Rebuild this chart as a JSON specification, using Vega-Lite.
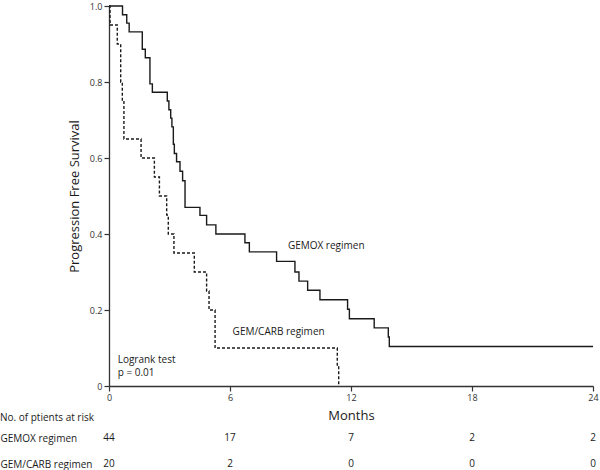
{
  "$schema": "https://vega.github.io/schema/vega-lite/v6.json",
  "background": "white",
  "padding": {"left": 0, "top": 2, "right": 0, "bottom": 0},
  "bounds": "flush",
  "spacing": 39,
  "config": {
    "view": {"stroke": null},
    "font": "Open Sans",
    "axis": {"grid": false, "domainColor": "#333333", "domainWidth": 1.3, "tickColor": "#333333", "tickWidth": 1.2, "labelColor": "#333333", "titleColor": "#1a1a1a", "titleFontWeight": "normal", "labelFont": "Open Sans", "titleFont": "Open Sans"}
  },
  "vconcat": [
    {
      "width": 484,
      "height": 380,
      "layer": [
        {
          "data": {"values": [
            {"group": "GEMOX", "month": 0, "survival": 1.0},
            {"group": "GEMOX", "month": 0.67, "survival": 0.977},
            {"group": "GEMOX", "month": 0.88, "survival": 0.955},
            {"group": "GEMOX", "month": 1.0, "survival": 0.932},
            {"group": "GEMOX", "month": 1.65, "survival": 0.886},
            {"group": "GEMOX", "month": 1.8, "survival": 0.864},
            {"group": "GEMOX", "month": 2.03, "survival": 0.795},
            {"group": "GEMOX", "month": 2.15, "survival": 0.773},
            {"group": "GEMOX", "month": 2.89, "survival": 0.75},
            {"group": "GEMOX", "month": 2.97, "survival": 0.727},
            {"group": "GEMOX", "month": 3.06, "survival": 0.705},
            {"group": "GEMOX", "month": 3.12, "survival": 0.682},
            {"group": "GEMOX", "month": 3.19, "survival": 0.636},
            {"group": "GEMOX", "month": 3.24, "survival": 0.612},
            {"group": "GEMOX", "month": 3.35, "survival": 0.59},
            {"group": "GEMOX", "month": 3.52, "survival": 0.565},
            {"group": "GEMOX", "month": 3.65, "survival": 0.54},
            {"group": "GEMOX", "month": 3.77, "survival": 0.47},
            {"group": "GEMOX", "month": 4.51, "survival": 0.449},
            {"group": "GEMOX", "month": 4.84, "survival": 0.424},
            {"group": "GEMOX", "month": 5.3, "survival": 0.40},
            {"group": "GEMOX", "month": 6.74, "survival": 0.377},
            {"group": "GEMOX", "month": 6.96, "survival": 0.353},
            {"group": "GEMOX", "month": 8.31, "survival": 0.328},
            {"group": "GEMOX", "month": 9.22, "survival": 0.30},
            {"group": "GEMOX", "month": 9.42, "survival": 0.276},
            {"group": "GEMOX", "month": 9.85, "survival": 0.252},
            {"group": "GEMOX", "month": 10.46, "survival": 0.227},
            {"group": "GEMOX", "month": 11.83, "survival": 0.202},
            {"group": "GEMOX", "month": 11.92, "survival": 0.177},
            {"group": "GEMOX", "month": 13.15, "survival": 0.153},
            {"group": "GEMOX", "month": 13.85, "survival": 0.129},
            {"group": "GEMOX", "month": 13.9, "survival": 0.104},
            {"group": "GEMOX", "month": 24, "survival": 0.104},
            {"group": "GEM/CARB", "month": 0, "survival": 1.0},
            {"group": "GEM/CARB", "month": 0.05, "survival": 0.95},
            {"group": "GEM/CARB", "month": 0.41, "survival": 0.90},
            {"group": "GEM/CARB", "month": 0.58, "survival": 0.80},
            {"group": "GEM/CARB", "month": 0.66, "survival": 0.75},
            {"group": "GEM/CARB", "month": 0.74, "survival": 0.65},
            {"group": "GEM/CARB", "month": 1.59, "survival": 0.60},
            {"group": "GEM/CARB", "month": 2.25, "survival": 0.55},
            {"group": "GEM/CARB", "month": 2.5, "survival": 0.50},
            {"group": "GEM/CARB", "month": 2.86, "survival": 0.45},
            {"group": "GEM/CARB", "month": 2.94, "survival": 0.40},
            {"group": "GEM/CARB", "month": 3.22, "survival": 0.35},
            {"group": "GEM/CARB", "month": 4.23, "survival": 0.30},
            {"group": "GEM/CARB", "month": 4.84, "survival": 0.25},
            {"group": "GEM/CARB", "month": 4.96, "survival": 0.20},
            {"group": "GEM/CARB", "month": 5.26, "survival": 0.10},
            {"group": "GEM/CARB", "month": 11.32, "survival": 0.05},
            {"group": "GEM/CARB", "month": 11.39, "survival": 0.0}
          ]},
          "mark": {"type": "line", "interpolate": "step-after", "strokeWidth": 1.4},
          "encoding": {
            "x": {"field": "month", "type": "quantitative", "scale": {"domain": [0, 24], "nice": false, "zero": false},
                  "axis": {"values": [0, 6, 12, 18, 24], "title": "Months", "titleFontSize": 13, "titlePadding": 7, "labelFontSize": 9, "labelFlush": false, "tickSize": 5, "labelPadding": 2}},
            "y": {"field": "survival", "type": "quantitative", "scale": {"domain": [0, 1], "nice": false},
                  "axis": {"values": [0, 0.2, 0.4, 0.6, 0.8, 1.0], "labelExpr": "datum.value == 0 ? '0' : format(datum.value, '.1f')", "title": "Progression Free Survival", "titleFontSize": 13, "titlePadding": 8, "labelFontSize": 9, "tickSize": 5, "labelPadding": 2}},
            "color": {"field": "group", "type": "nominal", "scale": {"domain": ["GEMOX", "GEM/CARB"], "range": ["#1a1a1a", "#1a1a1a"]}, "legend": null},
            "strokeDash": {"field": "group", "type": "nominal", "scale": {"domain": ["GEMOX", "GEM/CARB"], "range": [[1, 0], [3, 2]]}, "legend": null}
          }
        },
        {
          "data": {"values": [
            {"label": "GEMOX regimen", "month": 8.87, "survival": 0.368},
            {"label": "GEM/CARB regimen", "month": 6.13, "survival": 0.142},
            {"label": "Logrank test\np = 0.01", "month": 0.43, "survival": 0.068}
          ]},
          "mark": {"type": "text", "align": "left", "baseline": "middle", "fontSize": 10, "lineHeight": 13, "lineBreak": "\n", "color": "#1a1a1a", "font": "Open Sans"},
          "encoding": {
            "x": {"field": "month", "type": "quantitative"},
            "y": {"field": "survival", "type": "quantitative"},
            "text": {"field": "label", "type": "nominal"}
          }
        }
      ]
    },
    {
      "width": 484,
      "height": 52,
      "title": {"text": "No. of ptients at risk", "anchor": "start", "frame": "bounds", "orient": "top", "fontSize": 10, "fontWeight": "normal", "font": "Open Sans", "color": "#1a1a1a", "offset": 2},
      "data": {"values": [
        {"row": "GEMOX regimen", "month": 0, "n": "44"},
        {"row": "GEMOX regimen", "month": 6, "n": "17"},
        {"row": "GEMOX regimen", "month": 12, "n": "7"},
        {"row": "GEMOX regimen", "month": 18, "n": "2"},
        {"row": "GEMOX regimen", "month": 24, "n": "2"},
        {"row": "GEM/CARB regimen", "month": 0, "n": "20"},
        {"row": "GEM/CARB regimen", "month": 6, "n": "2"},
        {"row": "GEM/CARB regimen", "month": 12, "n": "0"},
        {"row": "GEM/CARB regimen", "month": 18, "n": "0"},
        {"row": "GEM/CARB regimen", "month": 24, "n": "0"}
      ]},
      "mark": {"type": "text", "align": "center", "baseline": "middle", "fontSize": 10, "color": "#1a1a1a", "font": "Open Sans"},
      "encoding": {
        "x": {"field": "month", "type": "quantitative", "scale": {"domain": [0, 24], "nice": false, "zero": false}, "axis": null},
        "y": {"field": "row", "type": "nominal", "scale": {"type": "point", "domain": ["GEMOX regimen", "GEM/CARB regimen"], "padding": 0.5},
              "axis": {"title": null, "domain": false, "ticks": false, "labelAlign": "left", "labelPadding": 109, "labelFontSize": 10, "labelColor": "#1a1a1a", "labelFont": "Open Sans"}},
        "text": {"field": "n", "type": "nominal"}
      }
    }
  ]
}
